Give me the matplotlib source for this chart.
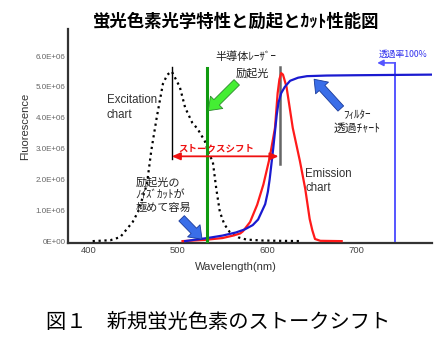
import numpy as np
import matplotlib
matplotlib.use('Agg')
import matplotlib.pyplot as plt

# Spectra (wavelength in nm, fluorescence in 1E+06 units)
exc_nm = [404, 424, 435, 449, 455, 465, 470, 476, 483, 488, 493, 502, 508, 516, 522, 530, 535, 539, 543, 547, 552, 558, 568, 577, 595, 615, 640]
exc_val = [0.0, 0.03, 0.13, 0.62, 0.95, 1.84, 2.95, 4.0, 5.1, 5.4, 5.5, 5.0, 4.33, 3.84, 3.64, 3.25, 2.8, 2.6, 1.7, 0.95, 0.55, 0.3, 0.12, 0.05, 0.02, 0.01, 0.0]

em_nm = [505, 530, 550, 562, 570, 573, 581, 589, 596, 603, 609, 612, 614, 616, 618, 622, 629, 637, 643, 648, 651, 654, 660, 684]
em_val = [0.0, 0.04, 0.1, 0.18, 0.25, 0.32, 0.62, 1.18, 1.84, 2.7, 3.67, 4.8, 5.25, 5.45, 5.4, 5.0, 3.67, 2.6, 1.7, 0.72, 0.35, 0.07, 0.01, 0.0]

filt_nm = [508, 520, 533, 550, 565, 575, 584, 590, 594, 598, 601, 603, 605, 607, 609, 611, 613, 616, 620, 626, 635, 645, 667, 700, 785]
filt_val = [0.0, 0.05, 0.1, 0.18, 0.28, 0.38, 0.52, 0.7, 0.95, 1.2, 1.6, 2.0, 2.5, 3.0, 3.55, 4.1, 4.5, 4.8, 5.0, 5.2, 5.3, 5.35, 5.37, 5.38, 5.4]

# Reference lines
exc_peak_nm = 493
em_peak_nm = 615
laser_nm = 533
filt_100_nm = 744
stokes_level = 2.75

xticks = [400, 500, 600, 700]
yticks = [0, 1, 2, 3, 4, 5, 6]
ytick_labels = ['0E+00', '1.0E+06', '2.0E+06', '3.0E+06', '4.0E+06', '5.0E+06', '6.0E+06']

cjk = ['Noto Sans CJK JP', 'DejaVu Sans']
latin = ['Liberation Sans', 'DejaVu Sans']

fig = plt.figure(figsize=(4.48, 3.41), dpi=100)
ax = fig.add_axes([0.152, 0.287, 0.812, 0.628])

# curves
ax.plot(exc_nm, exc_val, linestyle=':', color='black', linewidth=1.6, zorder=3)
ax.plot(em_nm, em_val, color='#ff1a1a', linewidth=1.6, zorder=4)
ax.plot(filt_nm, filt_val, color='#1a1ad0', linewidth=1.6, zorder=5)

# vertical marker lines
ax.plot([exc_peak_nm, exc_peak_nm], [stokes_level - 0.1, 5.64], color='black', linewidth=1.0, zorder=3)
ax.plot([em_peak_nm, em_peak_nm], [2.49, 5.64], color='#666666', linewidth=1.8, zorder=3)
ax.plot([laser_nm, laser_nm], [0, 5.6], color='#109a10', linewidth=2.2, zorder=6)
ax.plot([filt_100_nm, filt_100_nm], [0, 5.78], color='#5555ff', linewidth=1.4, zorder=3)

# stokes shift arrow
ax.annotate('', xy=(em_peak_nm - 2, stokes_level), xytext=(exc_peak_nm, stokes_level),
            arrowprops=dict(arrowstyle='<|-|>,head_length=0.5,head_width=0.22', color='#ee1111',
                            linewidth=1.3, shrinkA=0, shrinkB=0), zorder=7)
ax.text(543, 3.02, 'ストークスシフト', color='#ee1111', fontsize=6.8, fontweight='bold',
        ha='center', va='center', family=cjk)

# 100% transmission arrow
ax.annotate('', xy=(724, 5.78), xytext=(filt_100_nm, 5.78),
            arrowprops=dict(arrowstyle='-|>,head_length=0.35,head_width=0.18', color='#5555ff',
                            linewidth=1.2, shrinkA=0, shrinkB=0))
ax.text(726, 6.04, '透過率100%', color='#3333ee', fontsize=6.3, ha='left', va='center', family=cjk)

# fat arrows
fat = 'simple,head_width=1.25,head_length=0.85,tail_width=0.55'
ax.annotate('', xy=(534, 4.23), xytext=(566, 5.15),
            arrowprops=dict(arrowstyle=fat, fc='#44ee33', ec='#2a8a2a', linewidth=0.6,
                            mutation_scale=10, shrinkA=0, shrinkB=0), zorder=8)
ax.annotate('', xy=(653, 5.25), xytext=(683, 4.3),
            arrowprops=dict(arrowstyle=fat, fc='#3a6ee8', ec='#1a3a9a', linewidth=0.6,
                            mutation_scale=10, shrinkA=0, shrinkB=0), zorder=8)
ax.annotate('', xy=(527, 0.06), xytext=(504, 0.74),
            arrowprops=dict(arrowstyle=fat, fc='#3a6ee8', ec='#1a3a9a', linewidth=0.6,
                            mutation_scale=10, shrinkA=0, shrinkB=0), zorder=8)

# labels inside the chart
ax.text(420, 4.33, 'Excitation\nchart', fontsize=8.3, color='#333333', ha='left', va='center',
        linespacing=1.25, family=latin)
ax.text(643, 1.95, 'Emission\nchart', fontsize=8.3, color='#333333', ha='left', va='center',
        linespacing=1.25, family=latin)
ax.text(452, 1.5, '励起光の\nﾉｲｽﾞｶｯﾄが\n極めて容易', fontsize=8, color='#222222', ha='left',
        va='center', linespacing=1.3, family=cjk)
ax.text(576, 5.97, '半導体ﾚｰｻﾞｰ', fontsize=8, color='#222222', ha='center', va='center', family=cjk)
ax.text(583, 5.45, '励起光', fontsize=8, color='#222222', ha='center', va='center', family=cjk)
ax.text(701, 4.09, 'ﾌｨﾙﾀｰ', fontsize=8, color='#222222', ha='center', va='center', family=cjk)
ax.text(701, 3.67, '透過ﾁｬｰﾄ', fontsize=8.5, color='#222222', ha='center', va='center', family=cjk)

# axes styling
ax.set_xlim(376.4, 785.4)
ax.set_ylim(-0.065, 6.88)
ax.set_xticks(xticks)
ax.set_xticklabels([str(t) for t in xticks], fontsize=6.8, color='#444444', family=latin)
ax.set_yticks(yticks)
ax.set_yticklabels(ytick_labels, fontsize=5.8, color='#666666', family=latin)
ax.tick_params(length=0, pad=2)
for side in ['top', 'right']:
    ax.spines[side].set_visible(False)
ax.spines['left'].set_linewidth(1.6)
ax.spines['left'].set_color('#333333')
ax.spines['bottom'].set_linewidth(1.6)
ax.spines['bottom'].set_color('#333333')

fig.text(0.056, 0.628, 'Fluorescence', rotation=90, fontsize=8, color='#333333',
         ha='center', va='center', family=latin)
fig.text(0.526, 0.217, 'Wavelength(nm)', fontsize=8, color='#333333',
         ha='center', va='center', family=latin)

fig.text(0.527, 0.935, '蛍光色素光学特性と励起とｶｯﾄ性能図', fontsize=12.5, fontweight='bold',
         ha='center', va='center', family=cjk)
fig.text(0.487, 0.053, '図１　新規蛍光色素のストークシフト', fontsize=14.6,
         ha='center', va='center', family=cjk)

fig.savefig('out.png', dpi=100)
